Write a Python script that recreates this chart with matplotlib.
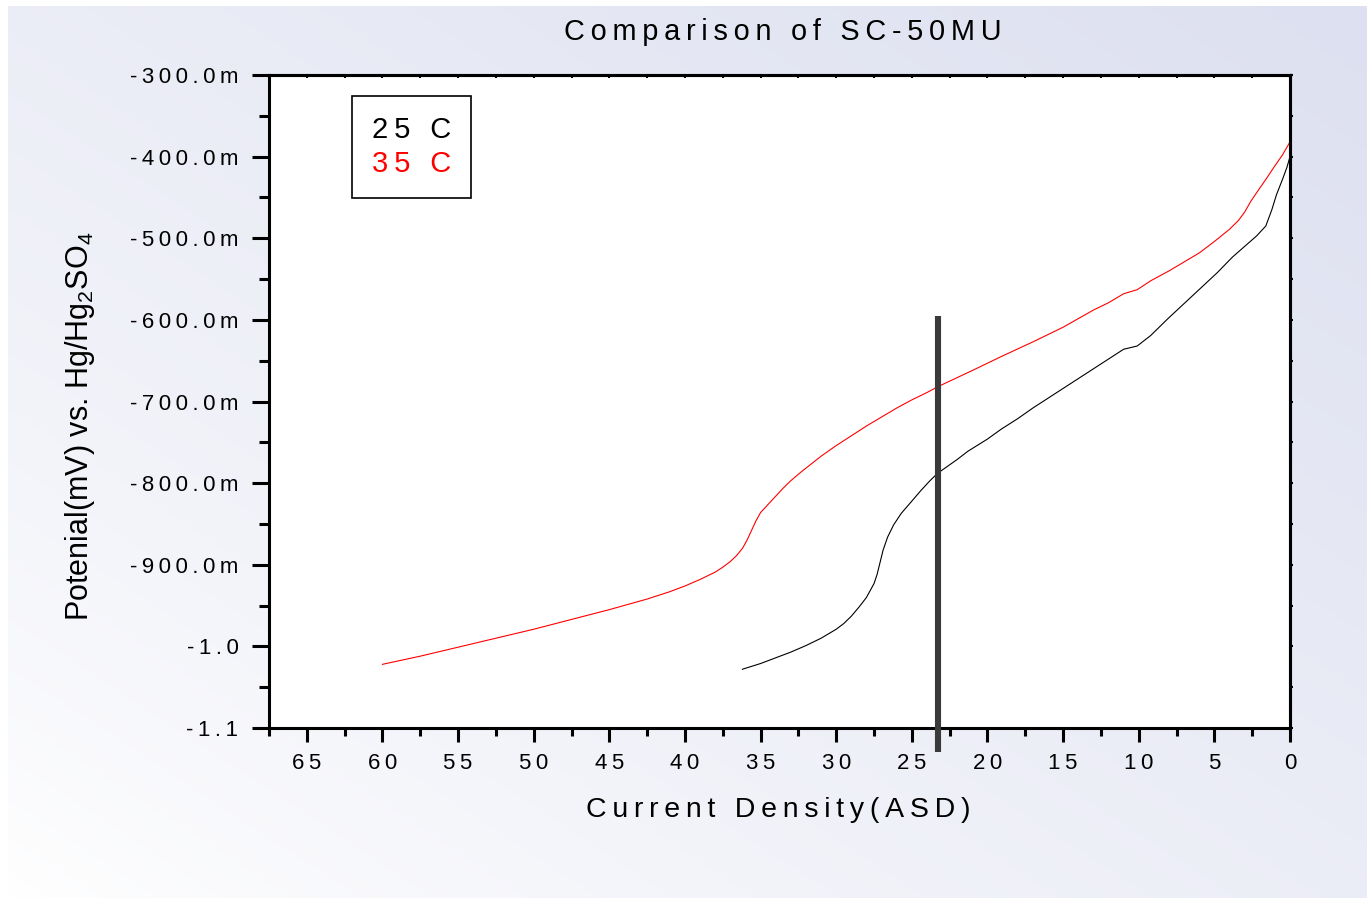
"""
Polarisation curves of SC-50MU at two bath temperatures.
"""

import numpy as np
import matplotlib.pyplot as plt
from matplotlib.lines import Line2D
from matplotlib.ticker import FixedLocator, MultipleLocator

plt.rcParams['font.family'] = ['Liberation Sans', 'DejaVu Sans']
plt.rcParams['mathtext.default'] = 'regular'

# 35 C curve: current density (ASD) vs potential (V)
red_x = [60, 57.5, 55, 52.5, 50, 47.5, 45, 42.5, 41, 40, 39, 38, 37.5, 37, 36.6,
         36.2, 35.9, 35.6, 35.3, 35.0, 34.5, 34.0, 33.5, 33.0, 32.3, 31, 30, 29,
         28, 27, 26, 25, 24, 23.3, 21, 19.1, 17, 15, 13, 12, 11, 10.1, 9.2, 8, 7,
         6, 5, 4, 3.4, 3.0, 2.6, 2.2, 1.6, 1.1, 0.5, 0]
red_y = [-1.022, -1.012, -1.001, -0.990, -0.979, -0.967, -0.955, -0.942, -0.933,
         -0.926, -0.918, -0.909, -0.903, -0.896, -0.889, -0.880, -0.870, -0.858,
         -0.846, -0.836, -0.826, -0.816, -0.806, -0.797, -0.786, -0.767, -0.754,
         -0.742, -0.730, -0.719, -0.708, -0.698, -0.689, -0.682, -0.662, -0.645,
         -0.627, -0.609, -0.588, -0.579, -0.568, -0.563, -0.552, -0.540, -0.529,
         -0.518, -0.504, -0.489, -0.478, -0.468, -0.455, -0.444, -0.428, -0.414,
         -0.398, -0.382]

# 25 C curve
blk_x = [36.2, 35, 34, 33, 32, 31, 30, 29.5, 29, 28.5, 28, 27.5, 27.3, 27.1, 26.9,
         26.6, 26.2, 25.7, 25.0, 24.4, 23.8, 23.3, 22, 21.3, 20, 19.1, 18, 17, 16,
         15, 14, 13, 12, 11, 10.1, 9.2, 8.1, 7, 5.9, 4.8, 3.8, 3.0, 2.2, 1.6, 1.2,
         0.9, 0.5, 0.2, 0]
blk_y = [-1.028, -1.021, -1.014, -1.007, -0.999, -0.990, -0.979, -0.972, -0.963,
         -0.952, -0.940, -0.923, -0.912, -0.897, -0.882, -0.866, -0.851, -0.837,
         -0.822, -0.809, -0.797, -0.788, -0.771, -0.761, -0.746, -0.734, -0.721,
         -0.708, -0.696, -0.684, -0.672, -0.660, -0.648, -0.636, -0.632, -0.619,
         -0.599, -0.580, -0.561, -0.542, -0.523, -0.510, -0.497, -0.485, -0.465,
         -0.447, -0.428, -0.413, -0.400]

# marker bar at the working current density
marker_x = 23.3
marker_y = (-0.595, -1.13)

x_ticks = [65, 60, 55, 50, 45, 40, 35, 30, 25, 20, 15, 10, 5, 0]
y_ticks = [-0.3, -0.4, -0.5, -0.6, -0.7, -0.8, -0.9, -1.0, -1.1]
y_tick_labels = ['-300.0m', '-400.0m', '-500.0m', '-600.0m', '-700.0m',
                 '-800.0m', '-900.0m', '-1.0', '-1.1']
series_names = ['25 C', '35 C']
series_colors = ['black', '#ff0000']

W, H = 1367, 898


def spaced(s):
    # wide tracking between characters
    return '\u2009'.join(s)


fig = plt.figure(figsize=(W / 100, H / 100), dpi=100, facecolor='white')

# soft diagonal background, white at lower left
bg = fig.add_axes([8 / W, 0, 1 - 8 / W, 1 - 6 / H], zorder=0)
u, v = np.meshgrid(np.linspace(0, 1, 400), np.linspace(1, 0, 300))
t = np.clip((u + v) / 2, 0, 1) ** 0.8
lav = np.array([221, 224, 240]) / 255
img = 1 - t[..., None] * (1 - lav)
bg.imshow(img, extent=(0, 1, 0, 1), aspect='auto', interpolation='bilinear')
bg.axis('off')

ax = fig.add_axes([269 / W, 1 - 728 / H, (1290 - 269) / W, (728 - 75) / H], zorder=1)
ax.set_facecolor('white')

ax.plot(blk_x, blk_y, color=series_colors[0], lw=0.8)
ax.plot(red_x, red_y, color=series_colors[1], lw=0.8)
ax.plot([marker_x, marker_x], marker_y, color='#3a3a3a', lw=4.4,
        solid_capstyle='butt', clip_on=False, zorder=3)

ax.set_xlim(67.5, 0)
ax.set_ylim(-1.1, -0.3)

ax.xaxis.set_major_locator(FixedLocator(x_ticks))
ax.set_xticklabels([spaced(str(v)) for v in x_ticks])
ax.xaxis.set_minor_locator(MultipleLocator(2.5))
ax.yaxis.set_major_locator(FixedLocator(y_ticks))
ax.set_yticklabels([spaced(s) for s in y_tick_labels])
ax.yaxis.set_minor_locator(MultipleLocator(0.05))

for sp in ax.spines.values():
    sp.set_linewidth(2.2)

ax.tick_params(axis='x', which='major', direction='out', length=10, width=2.2,
               labelsize=16, pad=8)
ax.tick_params(axis='x', which='minor', direction='out', length=6, width=2.2)
ax.tick_params(axis='y', which='major', direction='out', length=12, width=2.2,
               labelsize=16, pad=10)
ax.tick_params(axis='y', which='minor', direction='out', length=7, width=2.2)

# tiny ticks along the top and right frame
ax2 = ax.secondary_xaxis('top')
ax2.xaxis.set_major_locator(MultipleLocator(2.5))
ax2.tick_params(direction='in', length=2, width=1.5, labeltop=False)
ax2.spines['top'].set_linewidth(2.2)
ax3 = ax.secondary_yaxis('right')
ax3.yaxis.set_major_locator(MultipleLocator(0.05))
ax3.tick_params(direction='out', length=2, width=1.5, labelright=False)
ax3.spines['right'].set_linewidth(2.2)

ax.set_xlabel(spaced('Current Density(ASD)'), fontsize=20.5)
ax.xaxis.set_label_coords(0.4985, -0.1256)
ax.xaxis.label.set_va('center')
ax.set_ylabel('Potenial(mV) vs. Hg/Hg$_2$SO$_4$', fontsize=22)
ax.yaxis.set_label_coords(-0.185, 0.4625)
ax.yaxis.label.set_va('center')

fig.text(783 / W, 1 - 32 / H, spaced('Comparison of SC-50MU'), fontsize=20.8,
         ha='center', va='center')

handles = [Line2D([], [], lw=0, color='none') for _ in series_names]
leg = ax.legend(handles, [spaced(s) for s in series_names], loc='upper left',
                bbox_to_anchor=(83 / 1021, 1 - 21 / 653), borderaxespad=0,
                handlelength=0, handletextpad=0, fontsize=21, fancybox=False,
                framealpha=1, edgecolor='black', borderpad=0.68,
                labelspacing=0.2)
leg.get_frame().set_linewidth(1.2)
for txt, c in zip(leg.get_texts(), series_colors):
    txt.set_color(c)

fig.savefig('out.png', dpi=100)
